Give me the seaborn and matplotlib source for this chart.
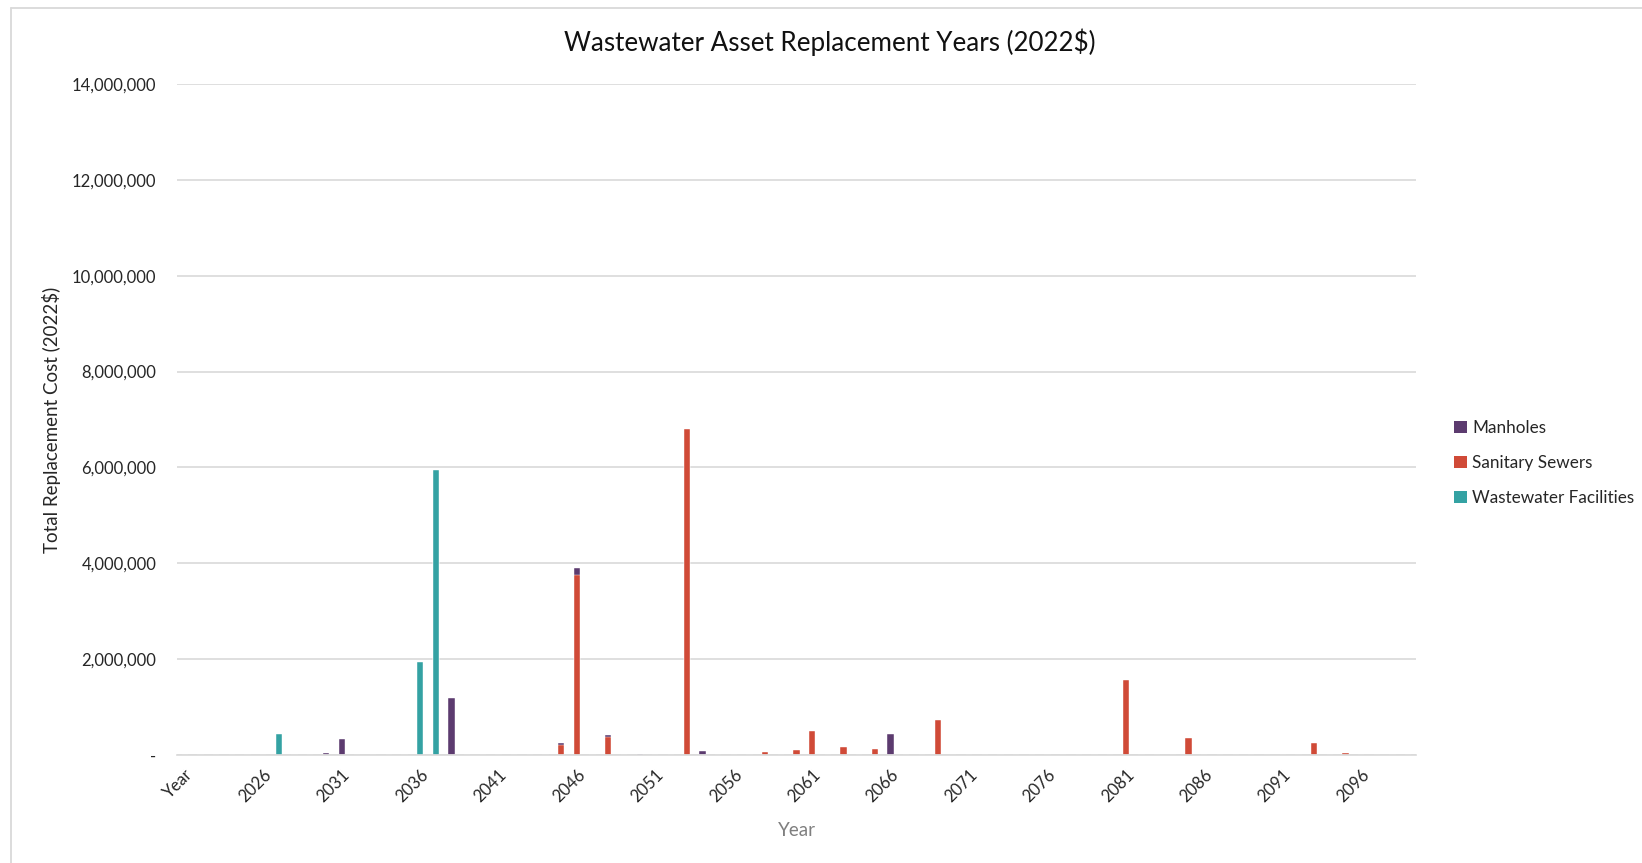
import matplotlib.pyplot as plt
import seaborn as sns
import pandas as pd
from matplotlib.patches import Patch
from matplotlib.lines import Line2D
from matplotlib.ticker import FuncFormatter

# categories on the x axis (the sheet had its header row "Year" as first category)
categories = ["Year"] + [str(y) for y in range(2022, 2100)]

manhole_years = [2030, 2031, 2038, 2045, 2046, 2048, 2050, 2054, 2066]
manhole_costs = [40000, 335000, 1180000, 40000, 140000, 25000, 25000, 90000, 440000]

sewer_years = [2045, 2046, 2048, 2053, 2058, 2060, 2061, 2063, 2065, 2069, 2081, 2085, 2093, 2095]
sewer_costs = [200000, 3760000, 385000, 6800000, 55000, 110000, 510000, 160000, 125000,
               740000, 1560000, 360000, 260000, 50000]

facility_years = [2027, 2036, 2037]
facility_costs = [440000, 1950000, 5940000]

series_names = ["Manholes", "Sanitary Sewers", "Wastewater Facilities"]
series_colors = ["#5C3B6F", "#D04A37", "#34A2A3"]

sns.set_style("white")
plt.rcParams["font.family"] = ["Lato", "DejaVu Sans"]


def to_column(years, costs):
    lookup = dict(zip([str(y) for y in years], costs))
    return df["category"].map(lookup).fillna(0)


df = pd.DataFrame({"category": categories})
df["Manholes"] = to_column(manhole_years, manhole_costs)
df["Sanitary Sewers"] = to_column(sewer_years, sewer_costs)
df["Wastewater Facilities"] = to_column(facility_years, facility_costs)

# stacked: facilities at the bottom, sewers, then manholes on top
df["top_facilities"] = df["Wastewater Facilities"]
df["top_sewers"] = df["top_facilities"] + df["Sanitary Sewers"]
df["top_manholes"] = df["top_sewers"] + df["Manholes"]

fig = plt.figure(figsize=(16.42, 8.63), dpi=100)
ax = fig.add_axes([177 / 1642, 1 - 755 / 863, (1416 - 177) / 1642, (755 - 84) / 863])

for col, color in [("top_manholes", series_colors[0]),
                   ("top_sewers", series_colors[1]),
                   ("top_facilities", series_colors[2])]:
    sns.barplot(data=df, x="category", y=col, order=categories, color=color,
                saturation=1, width=0.4, errorbar=None, edgecolor="white",
                linewidth=0.3, ax=ax)

ax.set_xlim(-0.5, len(categories) - 0.5)
ax.set_ylim(0, 14000000)
ax.set_yticks(range(0, 14000001, 2000000))
ax.yaxis.set_major_formatter(FuncFormatter(lambda v, p: "-" if v == 0 else f"{v:,.0f}"))

ax.set_xticks(range(0, len(categories), 5))
ax.set_xticklabels(categories[::5], rotation=45, ha="right", rotation_mode="anchor")

ax.yaxis.grid(True, color="#d9d9d9", linewidth=1.2)
ax.set_axisbelow(True)
for side in ["top", "right", "left"]:
    ax.spines[side].set_visible(False)
ax.spines["bottom"].set_color("#d9d9d9")
ax.spines["bottom"].set_linewidth(1.2)

ax.tick_params(axis="y", length=0, pad=15, labelsize=12, labelcolor="#262626")
ax.tick_params(axis="x", length=0, pad=8, labelsize=12, labelcolor="#262626")

ax.set_xlabel("Year", fontsize=13.5, color="#7f7f7f")
ax.xaxis.set_label_coords(0.5, -0.1)
ax.set_ylabel("Total Replacement Cost (2022$)", fontsize=13.5, color="#262626")
ax.yaxis.set_label_coords(-0.094, 0.5)

fig.text(830 / 1642, 1 - 42 / 863, "Wastewater Asset Replacement Years (2022$)",
         ha="center", va="center", fontsize=18.7, color="#111111")

handles = [Patch(facecolor=c, edgecolor="none") for c in series_colors]
fig.legend(handles, series_names, loc="center left",
           bbox_to_anchor=(1439 / 1642, 1 - 463 / 863), frameon=False,
           fontsize=12.3, handlelength=0.75, handleheight=0.75,
           handletextpad=0.3, labelspacing=1.12, labelcolor="#262626")

# light chart-area border (left and top edges visible)
fig.add_artist(Line2D([11 / 1642, 11 / 1642], [0, 1 - 8 / 863],
                      transform=fig.transFigure, color="#d9d9d9", linewidth=1.3))
fig.add_artist(Line2D([11 / 1642, 1], [1 - 8 / 863, 1 - 8 / 863],
                      transform=fig.transFigure, color="#d9d9d9", linewidth=1.3))

fig.savefig("out.png", dpi=100)
